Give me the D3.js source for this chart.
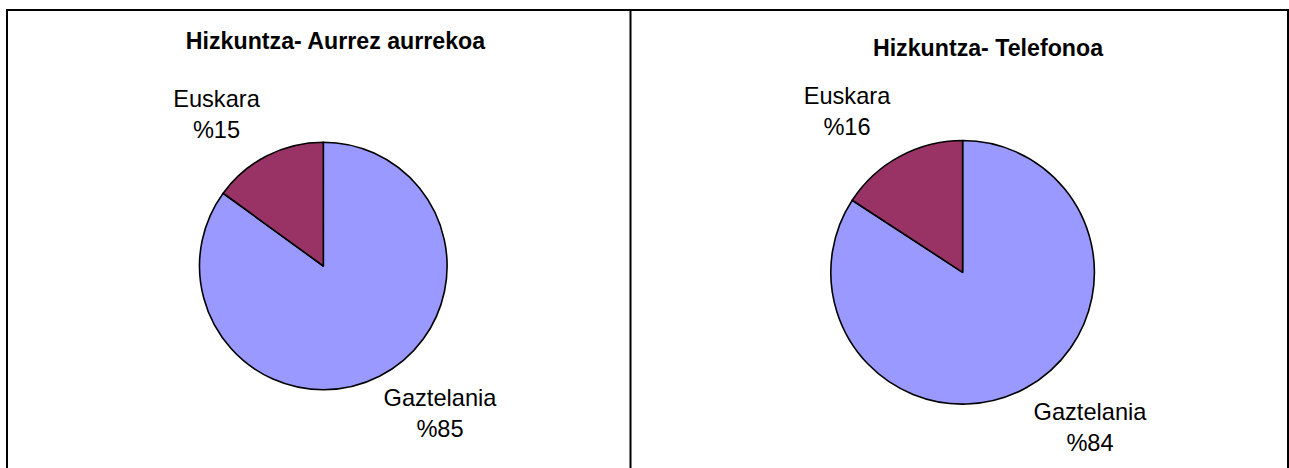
<!DOCTYPE html>
<html>
<head>
<meta charset="utf-8">
<script src="https://cdn.jsdelivr.net/npm/d3@7"></script>
<style>
  html, body { margin: 0; padding: 0; background: #fff; }
  svg { display: block; }
  text { font-family: "Liberation Sans", Arial, sans-serif; fill: #000; }
</style>
</head>
<body>
<svg id="chart" width="1289" height="468"></svg>
<script>
// ---- data ----
const categories = ["Gaztelania", "Euskara"];
const titles = ["Hizkuntza- Aurrez aurrekoa", "Hizkuntza- Telefonoa"];
const valuesAurrez = [85, 15];
const valuesTelefonoa = [84.2, 15.8];
const colors = ["#9999FF", "#993366"];

// ---- layout ----
const panels = [
  { values: valuesAurrez, title: titles[0], cx: 323.3, cy: 266, r: 123.8,
    titleX: 335.5, titleY: 49,
    labels: [ { x: 440, y: 406 }, { x: 216.5, y: 107 } ] },
  { values: valuesTelefonoa, title: titles[1], cx: 962.6, cy: 272.3, r: 131.8,
    titleX: 988, titleY: 55.5,
    labels: [ { x: 1090, y: 420 }, { x: 847, y: 104 } ] }
];

const svg = d3.select("#chart");

// frame lines
const frame = svg.append("g").attr("stroke", "#000").attr("stroke-width", 2).attr("fill", "none");
frame.append("line").attr("x1", 6).attr("x2", 1289).attr("y1", 10).attr("y2", 10);
frame.append("line").attr("x1", 7).attr("x2", 7).attr("y1", 9).attr("y2", 468);
frame.append("line").attr("x1", 630.5).attr("x2", 630.5).attr("y1", 9).attr("y2", 468);
frame.append("line").attr("x1", 1288).attr("x2", 1288).attr("y1", 9).attr("y2", 468);

const color = d3.scaleOrdinal().domain(categories).range(colors);
const pie = d3.pie().sort(null).value(d => d.value).startAngle(0).endAngle(2 * Math.PI);

panels.forEach(p => {
  const data = categories.map((c, i) => ({ cat: c, value: p.values[i] }));
  const total = d3.sum(data, d => d.value);
  const arcs = pie(data);
  const arc = d3.arc().innerRadius(0).outerRadius(p.r);

  const g = svg.append("g").attr("transform", `translate(${p.cx},${p.cy})`);
  g.selectAll("path").data(arcs).join("path")
    .attr("d", arc)
    .attr("fill", d => color(d.data.cat))
    .attr("stroke", "#000")
    .attr("stroke-width", 1.6)
    .attr("stroke-linejoin", "round");

  svg.append("text")
    .attr("x", p.titleX).attr("y", p.titleY)
    .attr("text-anchor", "middle")
    .attr("font-weight", "bold")
    .attr("font-size", 23.2)
    .text(p.title);

  arcs.forEach((a, i) => {
    const L = p.labels[i];
    const t = svg.append("text")
      .attr("text-anchor", "middle")
      .attr("font-size", 23.6);
    t.append("tspan").attr("x", L.x).attr("y", L.y).text(a.data.cat);
    t.append("tspan").attr("x", L.x).attr("y", L.y + 31)
      .text("%" + Math.round(a.data.value / total * 100));
  });
});
</script>
</body>
</html>
